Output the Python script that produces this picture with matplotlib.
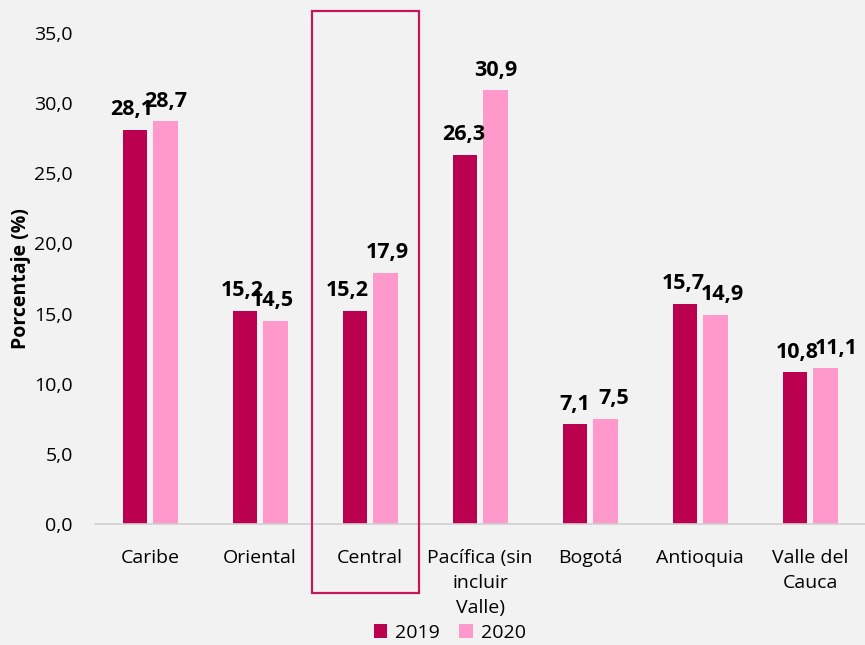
import numpy as np
import matplotlib.pyplot as plt
from matplotlib.patches import Rectangle

plt.rcParams['font.family'] = ['Open Sans', 'DejaVu Sans']

regiones = ["Caribe", "Oriental", "Central", "Pacífica (sin\nincluir\nValle)",
            "Bogotá", "Antioquia", "Valle del\nCauca"]
v2019 = [28.1, 15.2, 15.2, 26.3, 7.1, 15.7, 10.8]
v2020 = [28.7, 14.5, 17.9, 30.9, 7.5, 14.9, 11.1]

# small horizontal nudges of the data labels (points), as in the original
dx2019 = [-2, -2, -5, -1, 0, -1, 2]
dx2020 = [0, -2, 1, 0, 6, 5, 8]

c2019 = "#BA004F"
c2020 = "#FF99CC"
bg = "#F2F2F2"

fig = plt.figure(figsize=(8.65, 6.45), dpi=100, facecolor=bg)
ax = fig.add_axes([0.11, 0.1876, 0.89, 0.7614], facecolor=bg)

x = np.arange(len(regiones))
w = 0.22
off = 0.14
b1 = ax.bar(x - off, v2019, w, color=c2019, label="2019")
b2 = ax.bar(x + off, v2020, w, color=c2020, label="2020")

def fmt(v):
    return f"{v:.1f}".replace(".", ",")

for bars, vals, dxs in ((b1, v2019, dx2019), (b2, v2020, dx2020)):
    for b, v, d in zip(bars, vals, dxs):
        ax.annotate(fmt(v), (b.get_x() + b.get_width() / 2, v),
                    xytext=(d, 7), textcoords="offset points",
                    ha="center", va="bottom", fontsize=15.5, fontweight="bold")

ax.set_xlim(-0.5, len(regiones) - 0.5)
ax.set_ylim(0, 35)
ax.set_yticks(np.arange(0, 36, 5))
ax.set_yticklabels([fmt(t) for t in np.arange(0, 36, 5)], fontsize=14)
ax.set_xticks(x)
ax.set_xticklabels(regiones, fontsize=14, linespacing=1.5)
ax.tick_params(length=0)
ax.tick_params(axis="x", pad=18)
ax.tick_params(axis="y", pad=16)
for s in ("top", "right", "left"):
    ax.spines[s].set_visible(False)
ax.spines["bottom"].set_color("#D0D0D0")
ax.spines["bottom"].set_linewidth(1.2)
ax.set_ylabel("Porcentaje (%)", fontsize=14, fontweight="bold", labelpad=2)

# recuadro resaltando la región Central
fig.patches.append(Rectangle((0.3607, 0.0806), 0.1237, 0.9024, transform=fig.transFigure,
                             fill=False, edgecolor="#C2185B", linewidth=1.6))

fig.legend(handles=[b1, b2], loc="lower center", bbox_to_anchor=(0.52, -0.022), ncol=2,
           frameon=False, fontsize=14, handlelength=0.7, handleheight=0.7,
           handletextpad=0.4, columnspacing=1.0)

fig.savefig("out.png", dpi=100, facecolor=bg)
